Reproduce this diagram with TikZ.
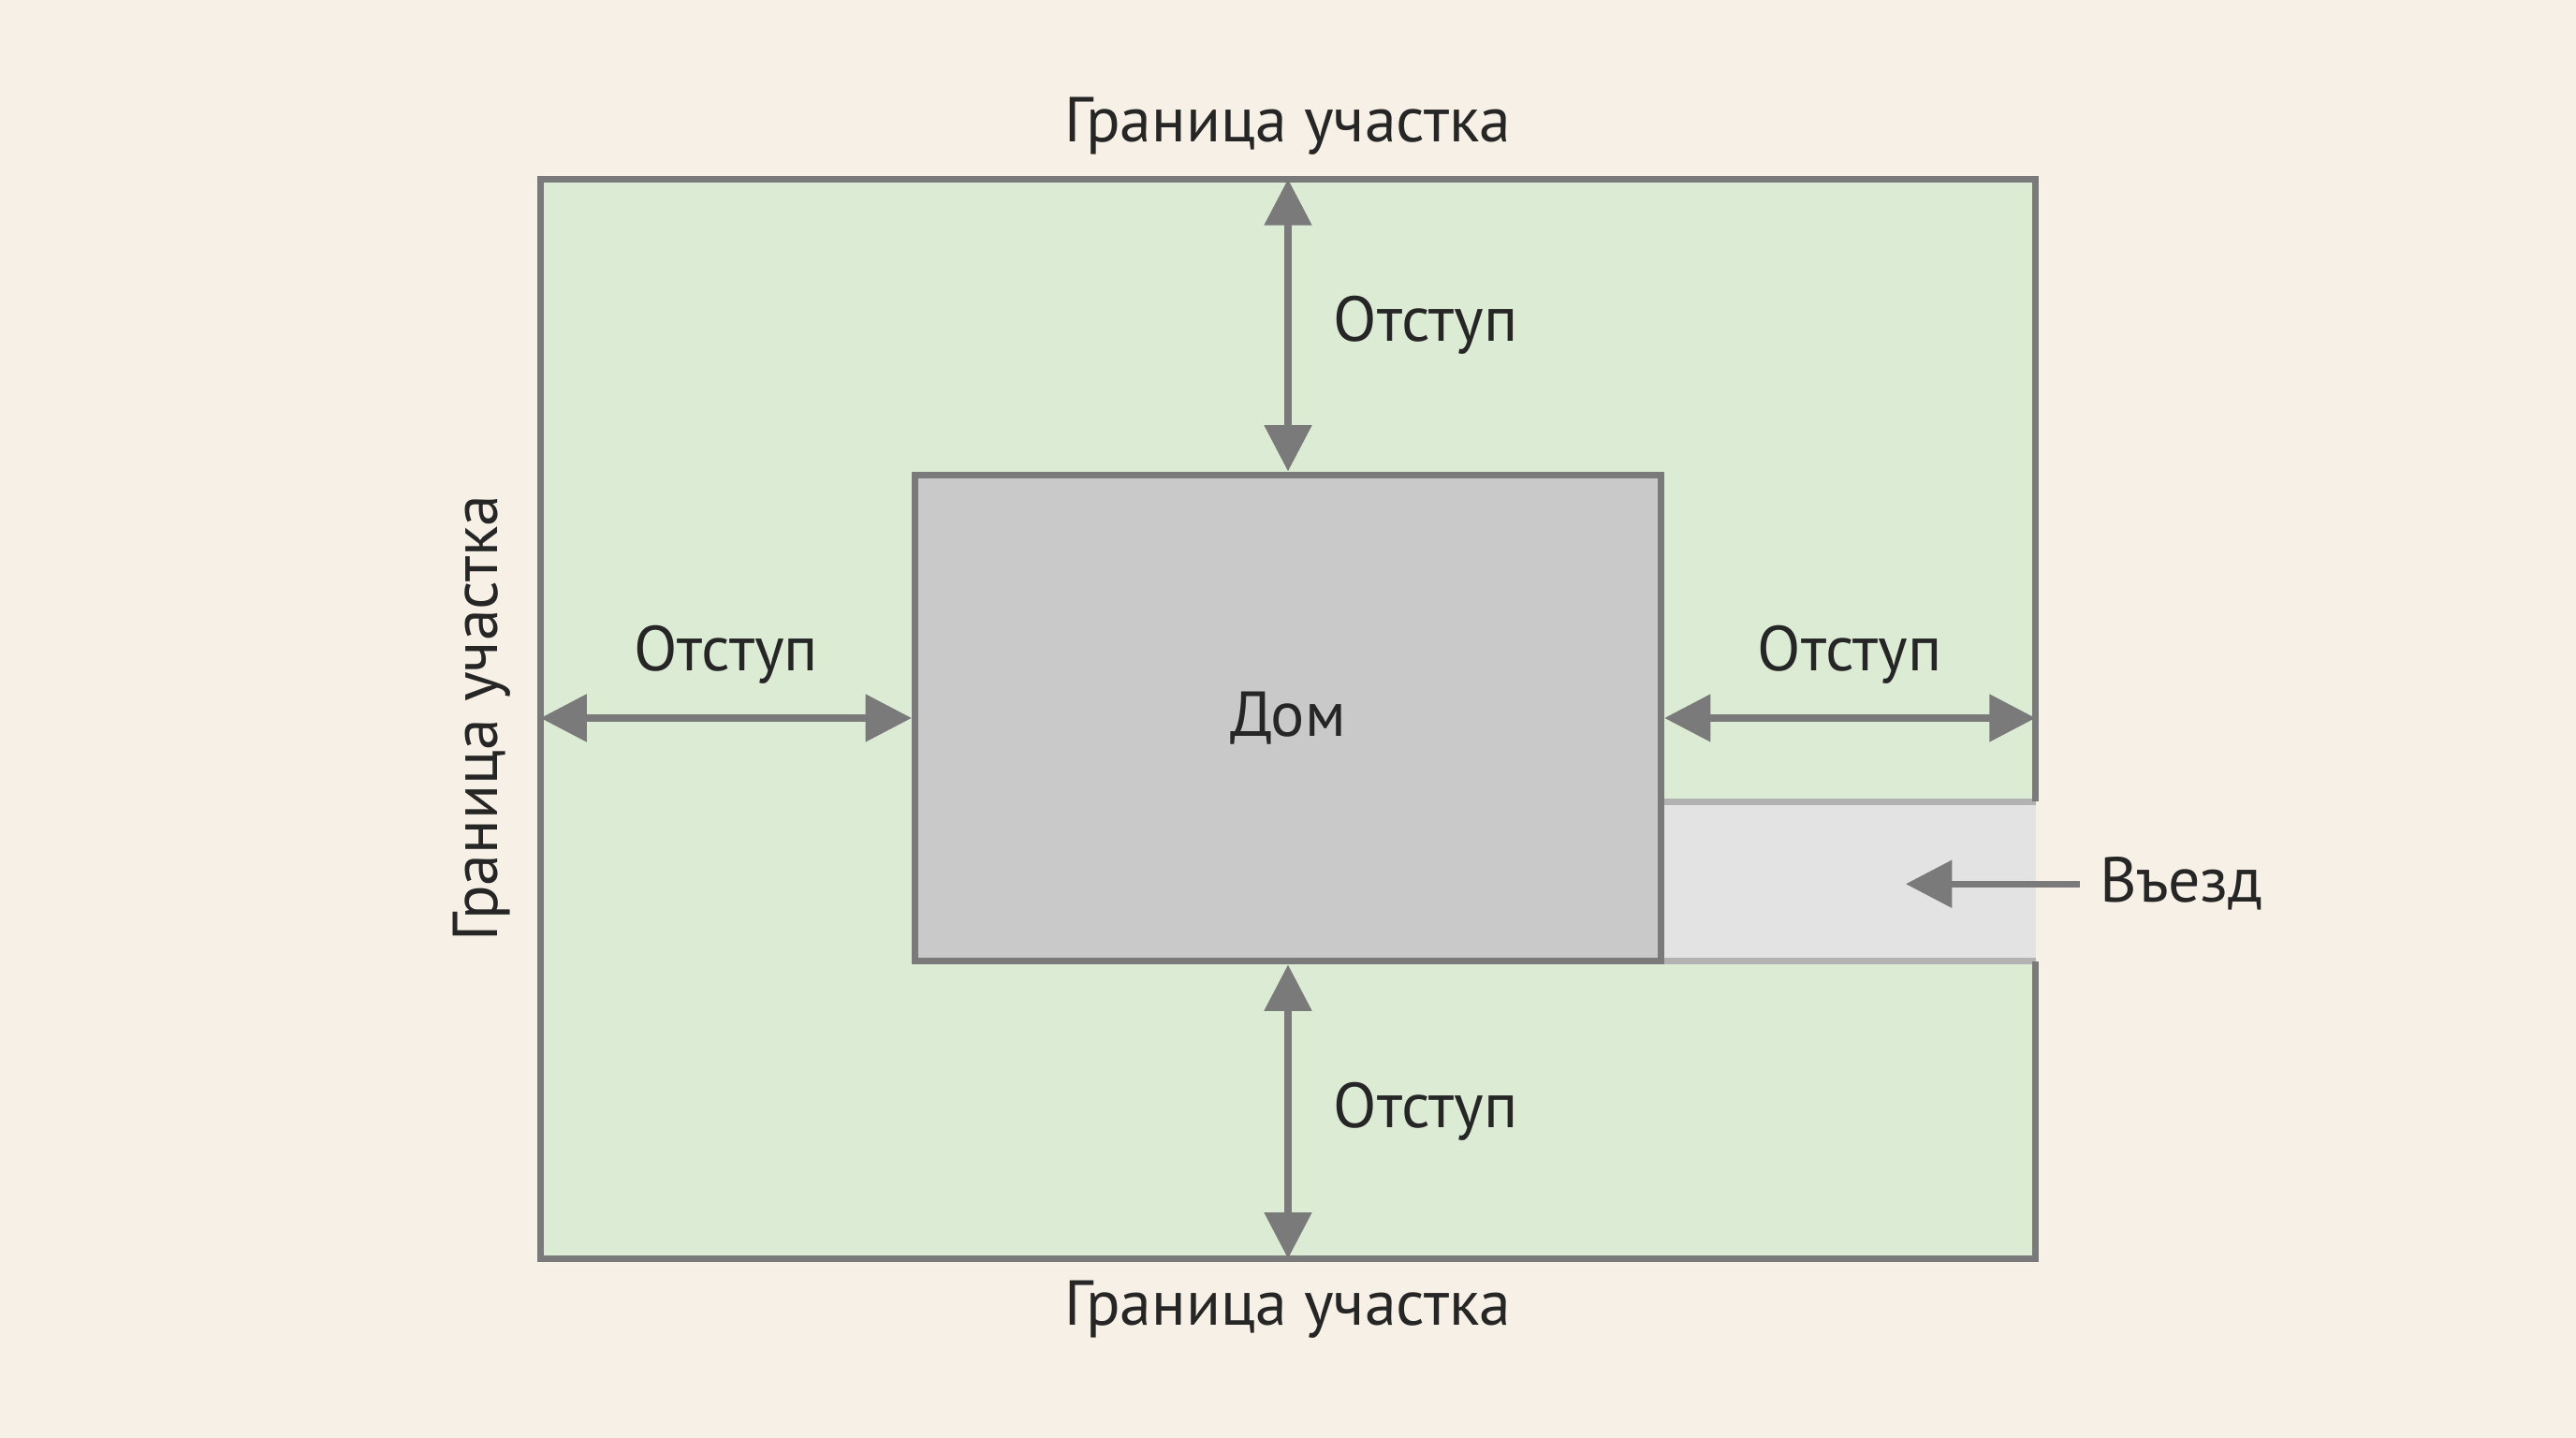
\documentclass[tikz,border=0pt]{standalone}
\usepackage{fontspec}
\setmainfont{PT Sans}
\usetikzlibrary{arrows.meta}
\definecolor{paper}{HTML}{F7F0E6}
\definecolor{lawn}{HTML}{DCEBD3}
\definecolor{house}{HTML}{C9C9C9}
\definecolor{drive}{HTML}{E3E3E3}
\definecolor{edge}{HTML}{7A7A7A}
\begin{document}
\begin{tikzpicture}[
    gap/.style={draw=edge, line width=1.2pt, {Triangle[length=8pt,width=8pt]}-{Triangle[length=8pt,width=8pt]}},
    lbl/.style={font=\fontsize{11}{13}\selectfont, text=black!85}
  ]
        % Paper
        \fill[paper] (0,0) rectangle (15.68,8.75);
        
        % Plot and driveway
        \fill[lawn] (3.29,1.09) rectangle (12.39,7.66);
        \fill[drive] (10.11,2.90) rectangle (12.39,3.87);
        \draw[black!30, line width=1.2pt] (10.11,3.87) -- (12.39,3.87);
        \draw[black!30, line width=1.2pt] (10.11,2.90) -- (12.39,2.90);
        \draw[edge, line width=1.2pt] (12.39,3.87) -- (12.39,7.66) -- (3.29,7.66) -- (3.29,1.09) -- (12.39,1.09) -- (12.39,2.90);
        
        % House
        \node[draw=edge, fill=house, line width=1.2pt, minimum width=4.54cm, minimum height=2.96cm, inner sep=0pt, lbl] (dom) at (7.84,4.38) {Дом};
        
        % Plot edges
        \coordinate (north) at (7.84,7.66);
        \coordinate (south) at (7.84,1.09);
        \coordinate (west) at (3.29,4.38);
        \coordinate (east) at (12.39,4.38);
        
        % Setbacks
        \draw[gap] (north) -- (dom.north) node[midway, right=4pt, lbl] {Отступ};
        \draw[gap] (dom.south) -- (south) node[midway, right=4pt, lbl] {Отступ};
        \draw[gap] (west) -- (dom.west) node[midway, above=2pt, lbl] {Отступ};
        \draw[gap] (dom.east) -- (east) node[midway, above=2pt, lbl] {Отступ};
        
        % Labels
        \node[lbl] (top) at (7.84,7.98) {Граница участка};
        \node[lbl] (bottom) at (7.84,0.78) {Граница участка};
        \node[lbl, rotate=90] (left) at (2.93,4.38) {Граница участка};
        \node[lbl, anchor=west] (entry) at (12.66,3.37) {Въезд};
        \coordinate (entrytip) at (11.60,3.37);
        \draw[draw=edge, line width=1.2pt, -{Triangle[length=8pt,width=8pt]}] (entry.west) -- (entrytip);
\end{tikzpicture}
\end{document}
